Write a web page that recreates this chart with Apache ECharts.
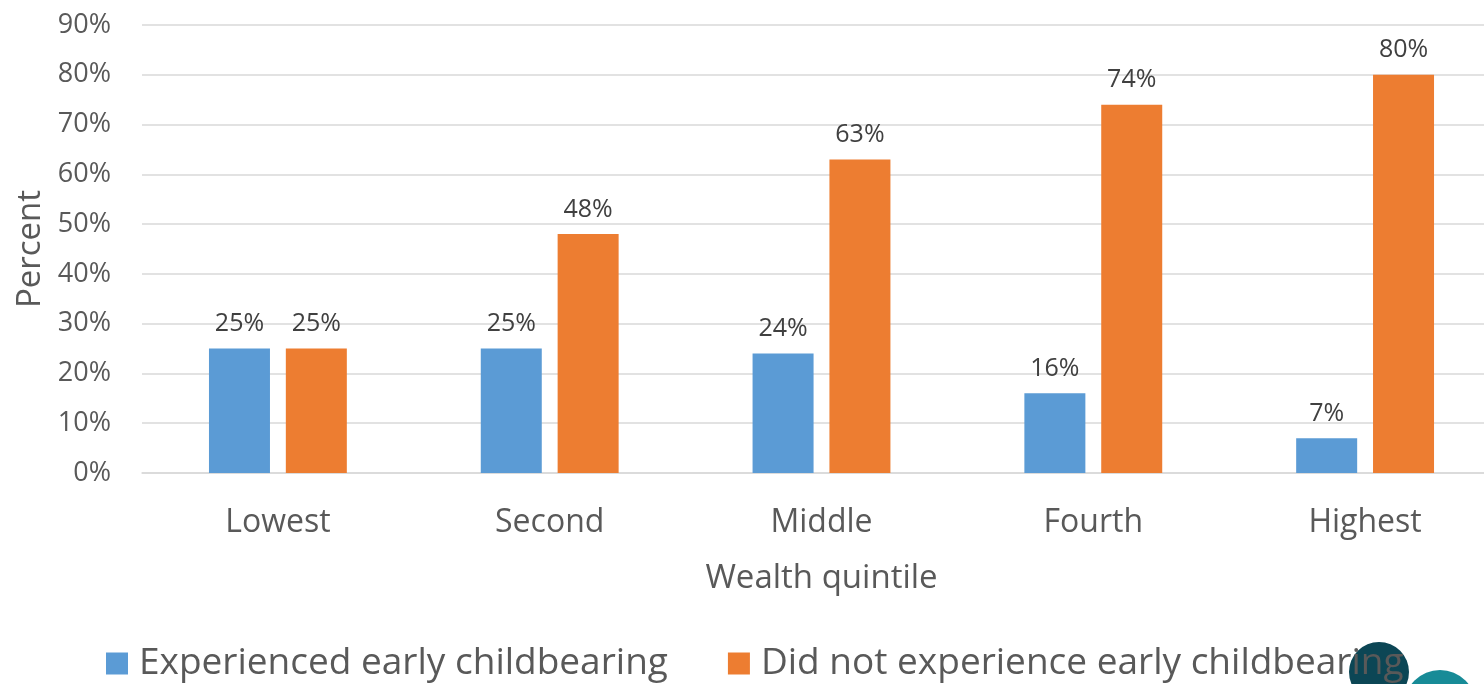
<!DOCTYPE html>
<html>
<head>
<meta charset="utf-8">
<script src="https://cdn.jsdelivr.net/npm/echarts@6/dist/echarts.min.js"></script>
<style>
  html, body { margin: 0; padding: 0; background: #ffffff; overflow: hidden; }
  /* canvas runs slightly past the window's right edge, so the last band is cut */
  #chart { width: 1501px; height: 684px; }
</style>
</head>
<body>
<div id="chart"></div>
<script>
// Early childbearing by household wealth quintile (percent)
const categories = ['Lowest', 'Second', 'Middle', 'Fourth', 'Highest'];
const experienced = [25, 25, 24, 16, 7];
const notExperienced = [25, 48, 63, 74, 80];
const seriesNames = ['Experienced early childbearing', 'Did not experience early childbearing'];

const FONT = '"Open Sans", "Noto Sans", sans-serif';
const chart = echarts.init(document.getElementById('chart'));

const valueLabel = {
  show: true,
  position: 'top',
  distance: 12,
  formatter: p => p.value + '%',
  color: '#404040',
  fontSize: 25,
  fontFamily: FONT
};

chart.setOption({
  animation: false,
  backgroundColor: '#ffffff',
  grid: { left: 142, right: 0, top: 25, bottom: 211, containLabel: false, outerBoundsMode: 'none' },
  xAxis: {
    type: 'category',
    data: categories,
    name: 'Wealth quintile',
    nameLocation: 'middle',
    nameGap: 89,
    nameTextStyle: { color: '#595959', fontSize: 33, fontFamily: FONT },
    axisLine: { show: true, lineStyle: { color: '#d9d9d9', width: 1.5 } },
    axisTick: { show: false },
    axisLabel: { color: '#595959', fontSize: 32, fontFamily: FONT, margin: 34 }
  },
  yAxis: {
    type: 'value',
    min: 0,
    max: 90,
    interval: 10,
    name: 'Percent',
    nameLocation: 'middle',
    nameGap: 94,
    nameRotate: 90,
    nameTextStyle: { color: '#595959', fontSize: 33, fontFamily: FONT },
    axisLine: { show: false },
    axisTick: { show: false },
    axisLabel: { color: '#595959', fontSize: 27, fontFamily: FONT, margin: 31, formatter: v => v + '%' },
    splitLine: { lineStyle: { color: '#d9d9d9', width: 1.5 } }
  },
  legend: {
    bottom: -3,
    left: 101,
    itemWidth: 22,
    itemHeight: 22,
    itemGap: 60,
    icon: 'rect',
    textStyle: { color: '#595959', fontSize: 37, fontFamily: FONT, padding: [0, 0, 0, 6] },
    data: seriesNames
  },
  graphic: [
    {
      type: 'circle', z: 1, silent: true,
      shape: { cx: 1379, cy: 672, r: 30 },
      style: { fill: '#0c4655' }
    },
    {
      type: 'circle', z: 1, silent: true,
      shape: { cx: 1440, cy: 706, r: 36 },
      style: { fill: '#178b97' }
    }
  ],
  series: [
    {
      name: seriesNames[0],
      type: 'bar',
      data: experienced,
      barWidth: 61,
      barGap: '26%',
      itemStyle: { color: '#5b9bd5' },
      label: valueLabel
    },
    {
      name: seriesNames[1],
      type: 'bar',
      data: notExperienced,
      barWidth: 61,
      itemStyle: { color: '#ed7d31' },
      label: valueLabel
    }
  ]
});
</script>
</body>
</html>
